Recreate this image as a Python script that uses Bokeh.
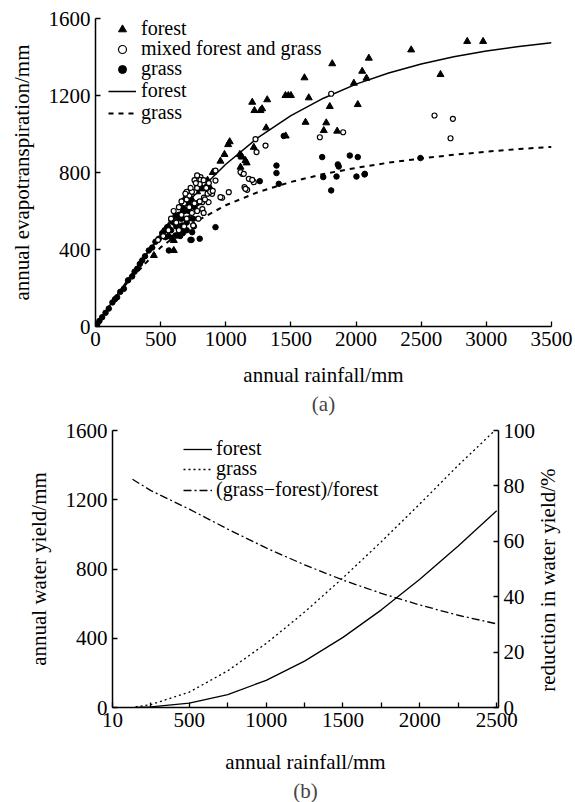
import math
from bokeh.plotting import figure
from bokeh.models import Range1d, LinearAxis, FixedTicker, Legend, LegendItem, Title
from bokeh.embed import file_html
from bokeh.resources import INLINE

FONT = "Liberation Serif"
FS = "21px"
LFS = "20px"

# ---------------- panel (a) data ----------------
forest_rain = [2853, 2975, 2423, 2098, 2047, 2080, 2648, 1817, 1604, 1983, 1458, 1480, 1500,
               1637, 1798, 2013, 1612, 1771, 1752, 1855, 1203, 1318, 1220, 1266, 1279, 1310,
               1215, 1126, 1151, 1460, 1018, 1030, 990, 959, 1108, 1120, 1160, 1113, 819,
               601, 448, 601, 640, 700, 720, 620, 680, 740, 700, 780, 560, 520, 650, 720,
               800, 860, 900, 880]
forest_et = [1481, 1481, 1437, 1394, 1326, 1290, 1309, 1365, 1292, 1264, 1200, 1200, 1200,
             1188, 1143, 1153, 1061, 1058, 1018, 1015, 1165, 1178, 1122, 1122, 1131, 1032,
             931, 880, 862, 990, 945, 960, 894, 859, 894, 885, 850, 828, 715,
             395, 369, 447, 560, 600, 640, 540, 610, 660, 680, 700, 520, 480, 500, 560,
             740, 760, 800, 720]

mixed_rain = [2602, 2743, 2725, 1809, 1228, 1305, 1236, 1901, 1722, 1126, 1177, 1215, 1144,
              1164, 921, 806, 806, 781, 921, 1023, 895, 972, 1113, 1138, 1203, 1151, 832,
              819, 868, 959,
              600, 640, 680, 700, 720, 760, 780, 800, 830, 780, 760, 740, 700, 660, 620,
              580, 720, 760, 800, 840, 860, 880, 700, 740, 780, 820, 640, 680, 560, 520,
              480, 850, 870, 750, 790, 900, 830, 660, 690, 730, 770]
mixed_et = [1096, 1079, 978, 1209, 973, 940, 906, 1009, 983, 793, 767, 750, 724,
            710, 810, 776, 762, 733, 758, 698, 689, 669, 802, 793, 762, 715, 669,
            646, 646, 672,
            600, 620, 640, 660, 680, 700, 720, 740, 760, 785, 760, 700, 700, 580, 540,
            560, 620, 640, 650, 660, 690, 700, 560, 590, 600, 610, 500, 520, 500, 470,
            450, 720, 745, 525, 560, 705, 590, 650, 690, 720, 745]

grass_rain = [2065, 2494, 1740, 1952, 2013, 1860, 1867, 1748, 1850, 2003, 2067, 1809, 1445,
              1389, 1389, 1407, 1261, 921, 800, 729, 563, 614, 665, 742, 755, 537, 588,
              627, 678, 670, 737,
              13, 30, 51, 77, 102, 130, 150, 166, 190, 218, 250, 281, 300, 320, 340, 358,
              380, 409, 435, 460, 486, 512, 530, 550, 583, 614, 652, 678, 700, 716, 740,
              600, 640, 680, 720, 700, 660, 760, 780, 620, 650, 700, 750, 560, 580]
grass_et = [790, 875, 880, 888, 880, 842, 831, 776, 779, 779, 793, 707, 990,
            836, 797, 741, 755, 516, 456, 450, 395, 473, 525, 490, 520, 464, 460,
            473, 516, 485, 450,
            12, 29, 48, 71, 93, 125, 142, 152, 180, 196, 240, 260, 285, 300, 325, 343,
            365, 395, 410, 440, 456, 485, 500, 516, 551, 576, 620, 655, 670, 690, 700,
            540, 580, 600, 600, 540, 560, 620, 640, 520, 470, 500, 560, 470, 500]

curve_rain = [0, 100, 250, 500, 750, 1000, 1250, 1500, 1750, 2000, 2250, 2500, 2750, 3000, 3250, 3500]
curve_forest = [0, 100, 246, 475, 675, 843, 983, 1095, 1186, 1259, 1317, 1364, 1401, 1431, 1455, 1474]
curve_grass = [0, 99, 233, 411, 538, 630, 699, 751, 792, 824, 851, 873, 892, 908, 922, 933]

# ---------------- panel (b) data ----------------
yield_rain = [150, 250, 500, 750, 1000, 1250, 1500, 1750, 2000, 2250, 2500]
yield_forest = [1, 4, 25, 75, 157, 268, 405, 564, 741, 933, 1136]
yield_grass = [4, 17, 89, 212, 370, 551, 749, 958, 1176, 1399, 1610]
ratio_rain = [130, 250, 500, 750, 1000, 1250, 1500, 1750, 2000, 2250, 2500]
ratio_pct = [82.4, 78.3, 71.6, 64.4, 57.6, 51.5, 46.0, 41.2, 37.0, 33.3, 30.2]

a_xticks = [0, 500, 1000, 1500, 2000, 2500, 3000, 3500]
a_yticks = [0, 400, 800, 1200, 1600]
b_xticks = [0, 250, 500, 750, 1000, 1250, 1500, 1750, 2000, 2250, 2500]
b_xlabels = {0: "10", 250: "", 500: "500", 750: "", 1000: "1000", 1250: "", 1500: "1500",
             1750: "", 2000: "2000", 2250: "", 2500: "2500"}
b_yticks = [0, 400, 800, 1200, 1600]
b_rticks = [0, 20, 40, 60, 80, 100]


def style_axis(ax):
    ax.major_tick_in = 5
    ax.major_tick_out = 0
    ax.minor_tick_in = 0
    ax.minor_tick_out = 0
    ax.axis_line_width = 1.5
    ax.major_tick_line_width = 1.3
    ax.axis_line_color = "black"
    ax.major_tick_line_color = "black"
    ax.major_label_text_font = FONT
    ax.major_label_text_font_size = FS
    ax.major_label_text_color = "black"
    ax.axis_label_text_font = FONT
    ax.axis_label_text_font_size = FS
    ax.axis_label_text_font_style = "normal"
    ax.axis_label_text_color = "black"


def add_legend_row(p, label, rend, offset, glyph_width, standoff):
    lg = Legend(items=[LegendItem(label=label, renderers=[rend])],
                location=offset, glyph_width=glyph_width, label_standoff=standoff)
    lg.label_text_font = FONT
    lg.label_text_font_size = LFS
    lg.label_text_color = "black"
    lg.border_line_color = None
    lg.background_fill_alpha = 0
    lg.padding = 0
    lg.margin = 0
    lg.spacing = 0
    lg.label_height = 20
    lg.glyph_height = 20
    p.add_layout(lg)


# ---------------- figure (a) ----------------
p1 = figure(width=575, height=418, x_range=Range1d(0, 3500), y_range=Range1d(0, 1600),
            output_backend="svg", toolbar_location=None,
            min_border_left=95, min_border_right=24, min_border_top=18, min_border_bottom=92)
p1.xgrid.visible = False
p1.ygrid.visible = False
p1.outline_line_color = None
p1.xaxis.ticker = FixedTicker(ticks=a_xticks)
p1.yaxis.ticker = FixedTicker(ticks=a_yticks)
p1.xaxis.axis_label = "annual rainfall/mm"
p1.yaxis.axis_label = "annual evapotranspiration/mm"
style_axis(p1.xaxis[0])
style_axis(p1.yaxis[0])
p1.xaxis.major_label_standoff = 5
p1.xaxis.axis_label_standoff = 14
p1.yaxis.major_label_standoff = 5
p1.yaxis.axis_label_standoff = 12

r_lf = p1.line(curve_rain, curve_forest, line_color="black", line_width=1.5)
r_lg = p1.line(curve_rain, curve_grass, line_color="black", line_width=2, line_dash="5 5")
r_tri = p1.scatter(forest_rain, forest_et, marker="triangle", size=7, fill_color="black", line_color="black")
r_gr = p1.scatter(grass_rain, grass_et, marker="circle", size=5.5, fill_color="black", line_color="black")
r_mix = p1.scatter(mixed_rain, mixed_et, marker="circle", size=5, fill_color="white", line_color="black", line_width=1.2)

add_legend_row(p1, "forest", r_tri, (13, 286), 28, 5)
add_legend_row(p1, "mixed forest and grass", r_mix, (13, 266), 28, 5)
add_legend_row(p1, "grass", r_gr, (13, 246), 28, 5)
add_legend_row(p1, "forest", r_lf, (13, 224), 28, 5)
add_legend_row(p1, "grass", r_lg, (13, 202), 28, 5)
p1.add_layout(Title(text="(a)", align="center", text_font=FONT, text_font_size=FS,
                    text_font_style="normal", standoff=0), "below")

# ---------------- figure (b) ----------------
p2 = figure(width=575, height=384, x_range=Range1d(0, 2512), y_range=Range1d(0, 1600),
            output_backend="svg", toolbar_location=None,
            min_border_left=112, min_border_right=76, min_border_top=12, min_border_bottom=93)
p2.xgrid.visible = False
p2.ygrid.visible = False
p2.outline_line_color = None
p2.extra_y_ranges = {"pct": Range1d(0, 100)}
p2.xaxis.ticker = FixedTicker(ticks=b_xticks)
p2.xaxis.major_label_overrides = b_xlabels
p2.yaxis.ticker = FixedTicker(ticks=b_yticks)
p2.xaxis.axis_label = "annual rainfall/mm"
p2.yaxis.axis_label = "annual water yield/mm"
style_axis(p2.xaxis[0])
style_axis(p2.yaxis[0])
p2.xaxis.major_label_standoff = 5
p2.xaxis.axis_label_standoff = 20
p2.yaxis.major_label_standoff = 5
p2.yaxis.axis_label_standoff = 12

rax = LinearAxis(y_range_name="pct", ticker=FixedTicker(ticks=b_rticks),
                 axis_label="\u00a0\u00a0\u00a0reduction in water yield/%")
style_axis(rax)
rax.major_label_standoff = 5
rax.axis_label_standoff = 10
rax.axis_label_orientation = math.pi / 2
rax.axis_label_align = "start"
p2.add_layout(rax, "right")

r_yf = p2.line(yield_rain, yield_forest, line_color="black", line_width=1.3)
r_yg = p2.line(yield_rain, yield_grass, line_color="black", line_width=1.3, line_dash="2 3")
r_rt = p2.line(ratio_rain, ratio_pct, line_color="black", line_width=1.3, line_dash="8 3 2 3",
               y_range_name="pct")

add_legend_row(p2, "forest", r_yf, (71, 247), 29, 4)
add_legend_row(p2, "grass", r_yg, (71, 227), 29, 4)
add_legend_row(p2, "(grass\u2212forest)/forest", r_rt, (71, 206), 29, 4)
p2.add_layout(Title(text="(b)", align="center", text_font=FONT, text_font_size=FS,
                    text_font_style="normal", standoff=0), "below")

open("out.html", "w").write(file_html((p1, p2), INLINE))
